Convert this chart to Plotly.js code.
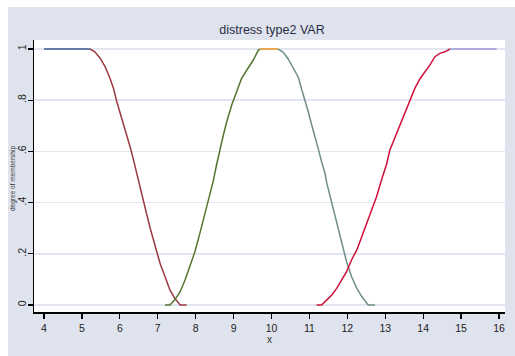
<!DOCTYPE html>
<html>
<head>
<meta charset="utf-8">
<script src="https://cdn.plot.ly/plotly-3.0.1.min.js"></script>
<style>
  html, body { margin: 0; padding: 0; background: #ffffff; }
  #frame { position: absolute; left: 8px; top: 7px; width: 507px; height: 349px; overflow: hidden; background: #dfe3ee; }
  #chart { width: 507px; height: 349px; }
</style>
</head>
<body>
<div id="frame"><div id="chart"></div></div>
<script>
// ---- data ----
const xTicks = [4, 5, 6, 7, 8, 9, 10, 11, 12, 13, 14, 15, 16];
const yTicks = [0, 0.2, 0.4, 0.6, 0.8, 1];
const yTickText = ["0", ".2", ".4", ".6", ".8", "1"];

const navyX = [4, 5.21];
const navyY = [1, 1];

const maroonX = [5.21, 5.34, 5.48, 5.61, 5.74, 5.83, 5.92, 6.00, 6.09, 6.18, 6.27, 6.35, 6.44, 6.53, 6.66, 6.80, 6.93, 7.06, 7.19, 7.32, 7.45, 7.59, 7.76];
const maroonY = [1, 0.989, 0.964, 0.931, 0.886, 0.847, 0.794, 0.755, 0.710, 0.664, 0.618, 0.573, 0.521, 0.462, 0.384, 0.300, 0.228, 0.163, 0.111, 0.059, 0.026, 0, 0];

const greenX = [7.19, 7.32, 7.45, 7.59, 7.72, 7.85, 7.98, 8.11, 8.25, 8.33, 8.46, 8.55, 8.64, 8.73, 8.82, 8.95, 9.08, 9.21, 9.35, 9.52, 9.65, 9.70];
const greenY = [0, 0, 0.020, 0.052, 0.098, 0.150, 0.208, 0.280, 0.358, 0.410, 0.482, 0.547, 0.612, 0.664, 0.716, 0.781, 0.833, 0.885, 0.918, 0.957, 0.995, 1];

const orangeX = [9.70, 10.18];
const orangeY = [1, 1];

const tealX = [10.18, 10.31, 10.44, 10.57, 10.71, 10.80, 10.88, 10.97, 11.06, 11.15, 11.23, 11.32, 11.41, 11.46, 11.59, 11.72, 11.85, 11.98, 12.11, 12.25, 12.38, 12.55, 12.73];
const tealY = [1, 0.987, 0.961, 0.928, 0.889, 0.840, 0.801, 0.755, 0.703, 0.658, 0.612, 0.560, 0.515, 0.475, 0.397, 0.319, 0.241, 0.169, 0.111, 0.065, 0.033, 0, 0];

const cranX = [11.19, 11.32, 11.46, 11.59, 11.72, 11.85, 11.98, 12.11, 12.25, 12.38, 12.51, 12.64, 12.77, 12.90, 13.04, 13.12, 13.26, 13.39, 13.52, 13.65, 13.78, 13.92, 14.05, 14.18, 14.31, 14.44, 14.57, 14.71];
const cranY = [0, 0, 0.020, 0.039, 0.065, 0.098, 0.130, 0.176, 0.215, 0.267, 0.319, 0.371, 0.423, 0.488, 0.553, 0.605, 0.657, 0.709, 0.755, 0.801, 0.846, 0.885, 0.911, 0.938, 0.970, 0.983, 0.989, 1];

const lavX = [14.71, 15.94];
const lavY = [1, 1];

const chartTitle = "distress type2 VAR";
const xTitle = "x";
const yTitle = "degree of membership";

// ---- styling ----
const series = [
  {x: navyX, y: navyY, c: "#3a5a8f"},
  {x: maroonX, y: maroonY, c: "#9a3a40"},
  {x: greenX, y: greenY, c: "#55752f"},
  {x: orangeX, y: orangeY, c: "#e8901a"},
  {x: tealX, y: tealY, c: "#6e8e84"},
  {x: cranX, y: cranY, c: "#d0103a"},
  {x: lavX, y: lavY, c: "#9a94d8"}
];

const traces = series.map(s => ({
  type: "scatter", mode: "lines", x: s.x, y: s.y,
  line: {color: s.c, width: 1.5}, hoverinfo: "skip", showlegend: false
}));

const font = {family: "Liberation Sans, Arial, sans-serif", color: "#222222", size: 10.5};

const layout = {
  width: 507, height: 349,
  margin: {l: 26, r: 10, t: 33, b: 44, pad: 0},
  paper_bgcolor: "#dfe3ee",
  plot_bgcolor: "#ffffff",
  font: font,
  showlegend: false,
  title: {text: chartTitle, x: 0.5207, xref: "container", xanchor: "center", y: 0.935, yref: "container", yanchor: "middle",
          font: {family: "Liberation Sans, Arial, sans-serif", size: 12.5, color: "#2a2e45"}},
  xaxis: {
    range: [3.736, 16.158], tickvals: xTicks, ticktext: xTicks.map(String),
    showgrid: false, zeroline: false, showline: true, linecolor: "#000000", linewidth: 1.5,
    ticks: "outside", ticklen: 5, tickwidth: 1.3, tickcolor: "#000000",
    tickfont: font, ticklabelstandoff: 1,
    title: {text: xTitle, font: {family: "Liberation Sans, Arial, sans-serif", size: 10, color: "#333333"}, standoff: 2}
  },
  yaxis: {
    range: [-0.0273, 1.0352], tickvals: yTicks, ticktext: yTickText, tickangle: -90,
    showgrid: true, gridcolor: "#e2e6f0", gridwidth: 1.5, zeroline: false,
    showline: true, linecolor: "#000000", linewidth: 1.5,
    ticks: "outside", ticklen: 5, tickwidth: 1.3, tickcolor: "#000000",
    tickfont: font, ticklabelstandoff: -3
  },
  annotations: [{
    text: yTitle, textangle: -90, showarrow: false, borderpad: 0,
    xref: "paper", yref: "paper", x: -0.0552, y: 0.489, xanchor: "left", yanchor: "middle",
    font: {family: "Liberation Sans, Arial, sans-serif", size: 6.5, color: "#333333"}
  }]
};

Plotly.newPlot("chart", traces, layout, {displayModeBar: false, staticPlot: true});
</script>
</body>
</html>
